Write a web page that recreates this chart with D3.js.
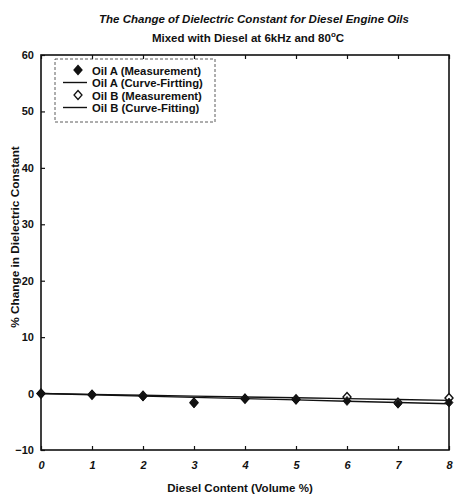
<!DOCTYPE html>
<html>
<head>
<meta charset="utf-8">
<script src="https://cdn.jsdelivr.net/npm/d3@7"></script>
<style>
  body { margin: 0; background: #fff; }
  text { font-family: "Liberation Sans", Arial, sans-serif; font-weight: bold; fill: #111; }
</style>
</head>
<body>
<svg id="chart" width="459" height="499"></svg>
<script>
"use strict";

// diesel content (volume %)
const dieselContent = [0, 1, 2, 3, 4, 5, 6, 7, 8];
// % change in dielectric constant
const oilAMeas = [0, -0.2, -0.5, -1.7, -0.9, -1.1, -1.3, -1.8, -1.6];
const oilBMeas = [0, -0.2, -0.4, -1.6, -0.9, -1.0, -0.6, -1.6, -0.8];
const oilAFit  = [0, -0.22, -0.45, -0.67, -0.9, -1.12, -1.35, -1.57, -1.8];
const oilBFit  = [0, -0.15, -0.3, -0.45, -0.6, -0.75, -0.9, -1.05, -1.2];
const xTicks = [0, 1, 2, 3, 4, 5, 6, 7, 8];
const yTicks = [-10, 0, 10, 20, 30, 40, 50, 60];
const legendLabels = ["Oil A (Measurement)", "Oil A (Curve-Firtting)", "Oil B (Measurement)", "Oil B (Curve-Fitting)"];

const svg = d3.select("#chart");
const m = {left: 41, right: 449, top: 55, bottom: 450};

const x = d3.scaleLinear().domain([0, 8]).range([m.left, m.right]);
const y = d3.scaleLinear().domain([-10, 60]).range([m.bottom, m.top]);

// titles
svg.append("text").attr("x", 254).attr("y", 23).attr("text-anchor", "middle")
  .attr("font-size", 11.5).attr("font-style", "italic")
  .text("The Change of Dielectric Constant for Diesel Engine Oils");
let t2 = svg.append("text").attr("x", 248).attr("y", 42).attr("text-anchor", "middle")
  .attr("font-size", 11.5);
t2.append("tspan").text("Mixed with Diesel at 6kHz and 80");
t2.append("tspan").attr("dy", -5).attr("font-size", 8).text("o");
t2.append("tspan").attr("dy", 5).text("C");

// frame
svg.append("rect").attr("x", m.left).attr("y", m.top)
  .attr("width", m.right - m.left).attr("height", m.bottom - m.top)
  .attr("fill", "none").attr("stroke", "#111").attr("stroke-width", 1.6);

// axes (ticks inward)
let xAxis = svg.append("g").attr("transform", `translate(0,${m.bottom})`)
  .call(d3.axisBottom(x).tickValues(xTicks).tickSize(-4).tickPadding(11).tickFormat(d3.format("d")));
let xAxisTop = svg.append("g").attr("transform", `translate(0,${m.top})`)
  .call(d3.axisTop(x).tickValues(xTicks).tickSize(-4).tickFormat(""));
let yAxis = svg.append("g").attr("transform", `translate(${m.left},0)`)
  .call(d3.axisLeft(y).tickValues(yTicks).tickSize(-4).tickPadding(7).tickFormat(d3.format("d")));
[xAxis, xAxisTop, yAxis].forEach(a => {
  a.select(".domain").remove();
  a.selectAll(".tick line").attr("stroke", "#111").attr("stroke-width", 1.2);
  a.selectAll("text").attr("font-size", 11).attr("font-family", "Liberation Sans, Arial, sans-serif").attr("fill", "#111");
});
xAxis.selectAll("text").attr("font-style", "italic");

// axis labels
svg.append("text").attr("x", 240).attr("y", 492).attr("text-anchor", "middle")
  .attr("font-size", 11.5).text("Diesel Content (Volume %)");
svg.append("text").attr("transform", "translate(19,237) rotate(-90)").attr("text-anchor", "middle")
  .attr("font-size", 11.8).text("% Change in Dielectric Constant");

// curves
const line = d3.line().x((d, i) => x(dieselContent[i])).y(d => y(d));
[oilAFit, oilBFit].forEach(s => {
  svg.append("path").attr("d", line(s)).attr("fill", "none")
    .attr("stroke", "#111").attr("stroke-width", 1.4);
});

const diamond = "M0,-4.5L4,0L0,4.5L-4,0Z";
svg.append("g").selectAll("path").data(oilBMeas).join("path")
  .attr("transform", (d, i) => `translate(${x(dieselContent[i])},${y(d)})`)
  .attr("d", diamond).attr("fill", "#fff").attr("stroke", "#111").attr("stroke-width", 1.4);
svg.append("g").selectAll("path").data(oilAMeas).join("path")
  .attr("transform", (d, i) => `translate(${x(dieselContent[i])},${y(d)})`)
  .attr("d", diamond).attr("fill", "#111").attr("stroke", "#111").attr("stroke-width", 0.8);

// legend
const lg = svg.append("g");
lg.append("rect").attr("x", 55).attr("y", 59).attr("width", 160).attr("height", 63)
  .attr("fill", "#fff").attr("stroke", "#333").attr("stroke-width", 0.8).attr("stroke-dasharray", "3,2");
legendLabels.forEach((lab, i) => {
  let yy = 71 + i * 12.5;
  if (i % 2 == 0) {
    lg.append("path").attr("transform", `translate(78,${yy - 1})`).attr("d", diamond)
      .attr("fill", i == 0 ? "#111" : "#fff").attr("stroke", "#111").attr("stroke-width", 1.3);
  } else {
    lg.append("line").attr("x1", 63).attr("x2", 87).attr("y1", yy - 1).attr("y2", yy - 1)
      .attr("stroke", "#111").attr("stroke-width", 1.4);
  }
  lg.append("text").attr("x", 92).attr("y", yy + 3.5).attr("font-size", 11.3).text(lab);
});
</script>
</body>
</html>
